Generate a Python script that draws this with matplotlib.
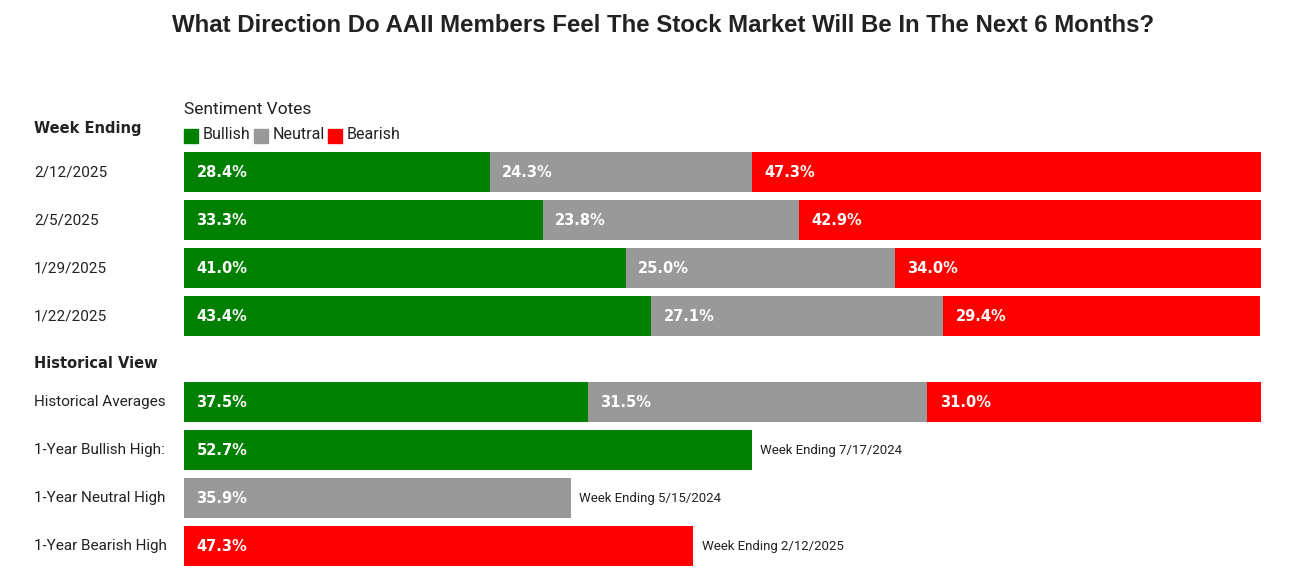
import matplotlib.pyplot as plt
from matplotlib.patches import Rectangle
from matplotlib.transforms import blended_transform_factory

weeks = ['2/12/2025', '2/5/2025', '1/29/2025', '1/22/2025']
bullish = [28.4, 33.3, 41.0, 43.4]
neutral = [24.3, 23.8, 25.0, 27.1]
bearish = [47.3, 42.9, 34.0, 29.4]

hist_avg = [37.5, 31.5, 31.0]
high_labels = ['1-Year Bullish High:', '1-Year Neutral High', '1-Year Bearish High']
high_values = [52.7, 35.9, 47.3]
high_dates = ['Week Ending 7/17/2024', 'Week Ending 5/15/2024', 'Week Ending 2/12/2025']

GREEN, GREY, RED = '#008000', '#999999', '#ff0000'
TXT = '#222222'
W, H = 1289, 579

fig = plt.figure(figsize=(W / 100, H / 100), dpi=100)
ax = fig.add_axes([184 / W, 1 - 570 / H, (1261 - 184) / W, 470 / H])
ax.set_xlim(0, 100)
ax.set_ylim(8.29, -1.5)
ax.axis('off')

left = blended_transform_factory(fig.transFigure, ax.transData)
bh = 40 / 48
gap = 38 / 48


def val(x, y, v):
    ax.annotate(f'{v:.1f}%', (x, y), xytext=(9, 0), textcoords='offset points',
                ha='left', va='center', color='white', fontsize=10.5,
                fontweight='heavy', family='DejaVu Sans')


# weekly rows
for i, w in enumerate(weeks):
    y = i
    b, n, r = bullish[i], neutral[i], bearish[i]
    ax.barh(y, b, height=bh, left=0, color=GREEN)
    ax.barh(y, n, height=bh, left=b, color=GREY)
    ax.barh(y, r, height=bh, left=b + n, color=RED)
    val(0, y, b)
    val(b, y, n)
    val(b + n, y, r)
    ax.text(34 / W, y, w, transform=left, ha='left', va='center', fontsize=11,
            color=TXT, family='Roboto')

# historical averages
y0 = len(weeks) + gap
b, n, r = hist_avg
ax.barh(y0, b, height=bh, color=GREEN)
ax.barh(y0, n, height=bh, left=b, color=GREY)
ax.barh(y0, r, height=bh, left=b + n, color=RED)
val(0, y0, b)
val(b, y0, n)
val(b + n, y0, r)
ax.text(34 / W, y0, 'Historical Averages', transform=left, ha='left', va='center',
        fontsize=11, color=TXT, family='Roboto')

# one year highs
for j, (lab, v, d, c) in enumerate(zip(high_labels, high_values, high_dates, [GREEN, GREY, RED])):
    y = y0 + 1 + j
    ax.barh(y, v, height=bh, color=c)
    val(0, y, v)
    ax.annotate(d, (v, y), xytext=(6, 0), textcoords='offset points', ha='left',
                va='center', fontsize=9.5, color=TXT, family='Roboto')
    ax.text(34 / W, y, lab, transform=left, ha='left', va='center', fontsize=11,
            color=TXT, family='Roboto')

# section headings
fig.text(34 / W, 1 - 128 / H, 'Week Ending', ha='left', va='center', fontsize=10.5,
         fontweight='heavy', color=TXT, family='DejaVu Sans')
fig.text(34 / W, 1 - 364 / H, 'Historical View', ha='left', va='center', fontsize=10.5,
         fontweight='heavy', color=TXT, family='DejaVu Sans')

# legend
fig.text(184 / W, 1 - 109 / H, 'Sentiment Votes', ha='left', va='center', fontsize=12.5,
         color=TXT, family='Roboto')
leg = [('Bullish', GREEN, 184), ('Neutral', GREY, 254), ('Bearish', RED, 328)]
for name, c, x in leg:
    fig.patches.append(Rectangle((x / W, 1 - 143 / H), 14 / W, 14 / H, color=c,
                                 transform=fig.transFigure, figure=fig))
    fig.text((x + 19) / W, 1 - 135 / H, name, ha='left', va='center', fontsize=11.5,
             color=TXT, family='Roboto')

fig.text(663 / W, 1 - 25 / H, 'What Direction Do AAII Members Feel The Stock Market Will Be In The Next 6 Months?',
         ha='center', va='center', fontsize=17.3, fontweight='bold', color=TXT,
         family='Liberation Sans')

fig.savefig('out.png', dpi=100, facecolor='white')
